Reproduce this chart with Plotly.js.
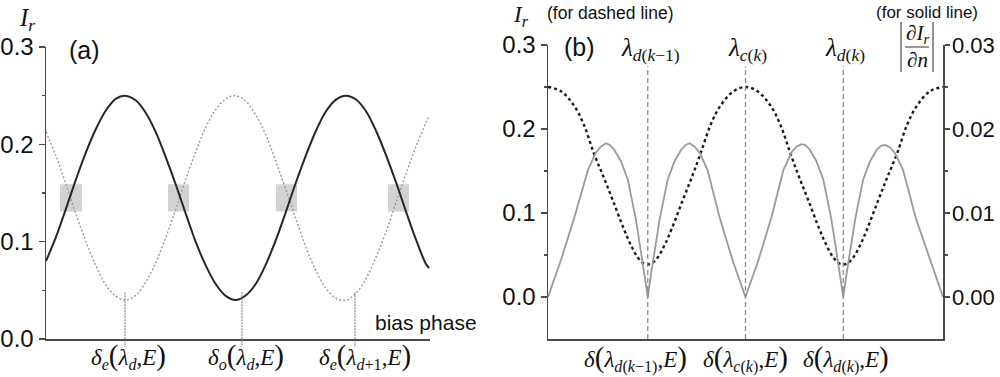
<!DOCTYPE html>
<html>
<head>
<meta charset="utf-8">
<script src="https://cdn.plot.ly/plotly-3.0.1.min.js"></script>
<style>html,body{margin:0;padding:0;background:#fff}#chart{width:1000px;height:377px}</style>
</head>
<body>
<div id="chart"></div>
<script>
// ---------- Panel (a) data (bias phase, arbitrary units) ----------
const aX = [0,10,20,30,40,50,60,70,79,90,100,110,120,130,140,150,160,170,180,189.5,200,210,220,230,240,250,260,270,280,290,300,310,320,330,340,350,360,370,380,383];
const aSolid = [0.080,0.105,0.134,0.164,0.192,0.216,0.235,0.247,0.250,0.245,0.232,0.212,0.186,0.158,0.128,0.099,0.075,0.056,0.044,0.040,0.045,0.057,0.077,0.102,0.131,0.161,0.189,0.214,0.234,0.246,0.250,0.246,0.234,0.214,0.189,0.161,0.131,0.102,0.077,0.073];
const aDashed = [0.213,0.188,0.159,0.128,0.100,0.075,0.055,0.044,0.040,0.045,0.059,0.079,0.105,0.134,0.165,0.193,0.218,0.236,0.247,0.250,0.244,0.230,0.209,0.182,0.153,0.123,0.094,0.070,0.052,0.042,0.040,0.047,0.062,0.084,0.110,0.140,0.170,0.198,0.222,0.229];
const aBoxX0 = [14,122,230,342];
const aBoxX1 = [36,143,251,363];
const aBoxY = [0.131,0.159];
const aMarkX = [79,196,309];
const aMarkTop = 0.048;
const aLabelX = [82,200,319];
const aLabels = [
  '<i>δ</i><sub><i>e</i></sub><span style="font-size:29px">(</span><i>λ</i><sub><i>d</i></sub>,<i>E</i><span style="font-size:29px">)</span>',
  '<i>δ</i><sub><i>o</i></sub><span style="font-size:29px">(</span><i>λ</i><sub><i>d</i></sub>,<i>E</i><span style="font-size:29px">)</span>',
  '<i>δ</i><sub><i>e</i></sub><span style="font-size:29px">(</span><i>λ</i><sub><i>d</i>+1</sub>,<i>E</i><span style="font-size:29px">)</span>'
];
const aYTicks = [0,0.1,0.2,0.3];

// ---------- Panel (b) data ----------
const bXDash = [0,13,26,36,46,56,65,76,83,90,96,100,104,110,117,124,135,144,153,163,173,186,198,210,223,233,243,252,261,272,279,286,292,296,300,306,313,320,331,340,350,360,370,383,396];
const bDash = [0.250,0.245,0.228,0.205,0.171,0.142,0.115,0.081,0.062,0.047,0.040,0.039,0.040,0.047,0.062,0.081,0.115,0.142,0.171,0.205,0.228,0.245,0.250,0.245,0.228,0.205,0.171,0.142,0.115,0.081,0.062,0.047,0.040,0.039,0.040,0.047,0.062,0.081,0.115,0.142,0.171,0.205,0.228,0.245,0.250];
const bXSolid = [0,13,26,40,48,53,58,62,66,73,80,88,93,97,100,103,107,112,120,127,134,138,142,147,152,160,172,185,198,211,224,236,244,249,254,258,262,269,276,284,289,293,296,299,303,308,316,323,330,334,338,343,348,356,369,383,396];
const bSolid = [0,0.0044,0.0093,0.0151,0.0172,0.0179,0.0183,0.0181,0.0176,0.0162,0.0140,0.0093,0.0055,0.0025,0,0.0025,0.0055,0.0093,0.0140,0.0162,0.0176,0.0181,0.0183,0.0179,0.0172,0.0151,0.0095,0.0044,0,0.0044,0.0095,0.0151,0.0172,0.0179,0.0182,0.0181,0.0176,0.0162,0.0140,0.0093,0.0055,0.0025,0,0.0025,0.0055,0.0093,0.0140,0.0162,0.0176,0.0180,0.0181,0.0178,0.0171,0.0151,0.0093,0.0044,0];
const bMarkX = [100,198,296];
const bMarkTop = 0.275;
const bTopLabels = [
  '<i>λ</i><sub><i>d</i>(<i>k</i>−1)</sub>',
  '<i>λ</i><sub><i>c</i>(<i>k</i>)</sub>',
  '<i>λ</i><sub><i>d</i>(<i>k</i>)</sub>'
];
const bLabelX = [88,198,299];
const bLabels = [
  '<i>δ</i><span style="font-size:29px">(</span><i>λ</i><sub><i>d</i>(<i>k</i>−1)</sub>,<i>E</i><span style="font-size:29px">)</span>',
  '<i>δ</i><span style="font-size:29px">(</span><i>λ</i><sub><i>c</i>(<i>k</i>)</sub>,<i>E</i><span style="font-size:29px">)</span>',
  '<i>δ</i><span style="font-size:29px">(</span><i>λ</i><sub><i>d</i>(<i>k</i>)</sub>,<i>E</i><span style="font-size:29px">)</span>'
];
const bYTicks = [0,0.1,0.2,0.3];
const bY2Ticks = [0,0.01,0.02,0.03];

// ---------- geometry ----------
const W = 1000, H = 377;
const px = v => v / W;
const py = v => 1 - v / H;
const aDomY = [py(339), py(47)];
const bDomY = [py(339), py(45)];
const aRange = [0, 0.3];
const aYpaper = v => aDomY[0] + (v - aRange[0]) / (aRange[1] - aRange[0]) * (aDomY[1] - aDomY[0]);

const sans = 'Liberation Sans, Arial, sans-serif';
const serif = 'Liberation Serif, Times New Roman, serif';
const axisCol = '#4a4a4a';

const traces = [
  {x: aX, y: aDashed, xaxis: 'x', yaxis: 'y', mode: 'lines', line: {color: '#9a9a9a', width: 1.4, dash: '2px,2px', shape: 'spline'}},
  {x: aX, y: aSolid, xaxis: 'x', yaxis: 'y', mode: 'lines', line: {color: '#262626', width: 2, shape: 'spline'}},
  {x: bXSolid, y: bSolid, xaxis: 'x2', yaxis: 'y3', mode: 'lines', line: {color: '#9a9a9a', width: 1.8}},
  {x: bXDash, y: bDash, xaxis: 'x2', yaxis: 'y2', mode: 'lines', line: {color: '#1a1a1a', width: 2.4, dash: 'dot', shape: 'spline'}}
];

const shapes = [];
for (let i = 0; i < aBoxX0.length; i++) {
  shapes.push({type: 'rect', xref: 'x', yref: 'y', x0: aBoxX0[i], x1: aBoxX1[i], y0: aBoxY[0], y1: aBoxY[1], fillcolor: '#d2d2d2', line: {width: 0}, layer: 'below'});
}
aMarkX.forEach(x => shapes.push({type: 'line', xref: 'x', yref: 'paper', x0: x, x1: x, y0: aYpaper(aMarkTop), y1: py(347), line: {color: '#8a8a8a', width: 1.2, dash: '2px,1px'}}));
bMarkX.forEach(x => shapes.push({type: 'line', xref: 'x2', yref: 'y2', x0: x, x1: x, y0: -0.05, y1: bMarkTop, line: {color: '#8a8a8a', width: 1.3, dash: '5px,3px'}}));
// |∂I_r/∂n| bars and fraction line
shapes.push({type: 'line', xref: 'paper', yref: 'paper', x0: px(901), x1: px(901), y0: py(22), y1: py(72), line: {color: '#555', width: 1.3}});
shapes.push({type: 'line', xref: 'paper', yref: 'paper', x0: px(933), x1: px(933), y0: py(22), y1: py(72), line: {color: '#555', width: 1.3}});
shapes.push({type: 'line', xref: 'paper', yref: 'paper', x0: px(905), x1: px(929), y0: py(47), y1: py(47), line: {color: '#555', width: 1.2}});

const ann = [];
const A = (text, x, y, size, family, extra) => Object.assign({text, x: px(x), y: py(y), xref: 'paper', yref: 'paper', showarrow: false, xanchor: 'center', yanchor: 'middle', font: {size, family, color: '#111'}}, extra || {});
ann.push(A('(a)', 84, 50, 25, sans));
ann.push(A('(b)', 579, 47, 25, sans));
ann.push(A('<i>I</i><sub><i>r</i></sub>', 27, 19, 25, serif));
ann.push(A('<i>I</i><sub><i>r</i></sub>', 521, 16, 23, serif));
ann.push(A('(for dashed line)', 610, 13, 17.5, sans));
ann.push(A('(for solid line)', 927, 13, 17, sans));
ann.push(A('bias phase', 373, 322, 21, sans, {xanchor: 'left'}));
ann.push(A('∂<i>I</i><sub><i>r</i></sub>', 917, 34, 21, serif));
ann.push(A('∂<i>n</i>', 917, 60, 21, serif));
[650, 747, 845].forEach((x, i) => ann.push(A(bTopLabels[i], x, 50, 25, serif)));
aLabelX.forEach((x, i) => ann.push({text: aLabels[i], x, xref: 'x', y: py(356), yref: 'paper', showarrow: false, xanchor: 'center', yanchor: 'middle', font: {size: 23, family: serif, color: '#111'}}));
bLabelX.forEach((x, i) => ann.push({text: bLabels[i], x, xref: 'x2', y: py(358), yref: 'paper', showarrow: false, xanchor: 'center', yanchor: 'middle', font: {size: 23, family: serif, color: '#111'}}));

const yCommon = {showgrid: false, zeroline: false, showline: true, linecolor: axisCol, linewidth: 1.5, ticks: 'outside', ticklen: 6, tickwidth: 1.5, tickcolor: axisCol, tickfont: {family: sans, size: 24, color: '#111'}, fixedrange: true};
const xCommon = {showgrid: false, zeroline: false, showline: true, linecolor: axisCol, linewidth: 1.5, ticks: '', showticklabels: false, fixedrange: true};

const layout = {
  width: W, height: H,
  margin: {l: 0, r: 0, t: 0, b: 0, pad: 0},
  paper_bgcolor: '#fff', plot_bgcolor: 'rgba(0,0,0,0)',
  showlegend: false,
  xaxis: Object.assign({}, xCommon, {domain: [px(46), px(430)], range: [0, 384], anchor: 'y'}),
  yaxis: Object.assign({}, yCommon, {domain: aDomY, range: aRange, anchor: 'x', tickvals: aYTicks, tickformat: '.1f',
    minor: {tickvals: [0.05, 0.15, 0.25], ticks: 'outside', ticklen: 3, tickwidth: 1.2, tickcolor: axisCol}}),
  xaxis2: Object.assign({}, xCommon, {domain: [px(548), px(943)], range: [0, 396], anchor: 'y2'}),
  yaxis2: Object.assign({}, yCommon, {domain: bDomY, range: [-0.05, 0.3], anchor: 'x2', tickvals: bYTicks, tickformat: '.1f',
    minor: {tickvals: [0.05, 0.15, 0.25], ticks: 'outside', ticklen: 3, tickwidth: 1.2, tickcolor: axisCol}}),
  yaxis3: Object.assign({}, yCommon, {overlaying: 'y2', side: 'right', anchor: 'x2', range: [-0.005, 0.03], tickvals: bY2Ticks, tickformat: '.2f',
    ticklen: 5, ticklabelstandoff: -2, tickfont: {family: sans, size: 22, color: '#111'},
    minor: {tickvals: [0.005, 0.015, 0.025], ticks: 'outside', ticklen: 3, tickwidth: 1.2, tickcolor: axisCol}}),
  shapes, annotations: ann
};

Plotly.newPlot('chart', traces, layout, {staticPlot: true, displayModeBar: false});
</script>
</body>
</html>
